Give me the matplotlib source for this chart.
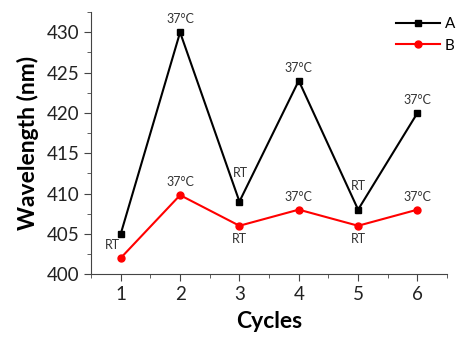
import numpy as np
import matplotlib
matplotlib.use('Agg')
import matplotlib.pyplot as plt
from matplotlib.ticker import MultipleLocator

plt.rcParams['font.family'] = ['Lato', 'DejaVu Sans']

cycles = [1, 2, 3, 4, 5, 6]
series_a = [405, 430, 409, 424, 408, 420]
series_b = [402, 409.8, 406, 408, 406, 408]
labels_a = [None, '37°C', 'RT', '37°C', 'RT', '37°C']
labels_b = ['RT', '37°C', 'RT', '37°C', 'RT', '37°C']
# label offsets in points
off_a = [None, (0, 5), (1, 16), (0, 5), (0, 13), (0, 5)]
off_b = [(-6, 9), (0, 5), (0, -5), (0, 5), (0, -5), (0, 5)]

fig = plt.figure(figsize=(4.6, 3.38), dpi=100)
ax = fig.add_axes([0.198, 0.189, 0.774, 0.775])

ax.plot(cycles, series_a, color='black', marker='s', markersize=4.5, lw=1.5, label='A')
ax.plot(cycles, series_b, color='red', marker='o', markersize=5, lw=1.5, label='B')

for x, y, t, o in zip(cycles, series_a, labels_a, off_a):
    if t:
        ax.annotate(t, (x, y), xytext=o, textcoords='offset points',
                    ha='center', va='bottom', fontsize=9, color='#333333')
for x, y, t, o in zip(cycles, series_b, labels_b, off_b):
    va = 'top' if o[1] < 0 else 'bottom'
    if o[0] != 0:
        va = 'center'
    ax.annotate(t, (x, y), xytext=o, textcoords='offset points',
                ha='center', va=va, fontsize=9, color='#333333')

ax.set_xlim(0.5, 6.5)
ax.set_ylim(400, 432.5)
ax.set_xticks(cycles)
ax.set_yticks(np.arange(400, 431, 5))
ax.xaxis.set_minor_locator(MultipleLocator(0.5))
ax.yaxis.set_minor_locator(MultipleLocator(2.5))
ax.spines['top'].set_visible(False)
ax.spines['right'].set_visible(False)
for s in ('left', 'bottom'):
    ax.spines[s].set_color('#444444')
ax.tick_params(which='both', color='#444444', labelsize=13.5, labelcolor='#222222')
ax.tick_params(which='major', length=5)
ax.tick_params(which='minor', length=3)

ax.set_xlabel('Cycles', fontsize=16.5, fontweight='bold', labelpad=6)
ax.set_ylabel('Wavelength (nm)', fontsize=16.5, fontweight='bold', labelpad=5)

ax.legend(loc='upper right', frameon=False, fontsize=11, handlelength=2.9,
          handletextpad=0.3, borderaxespad=0.0, bbox_to_anchor=(1.04, 1.005),
          labelspacing=0.5)

plt.savefig('out.png', dpi=100)
plt.close()
